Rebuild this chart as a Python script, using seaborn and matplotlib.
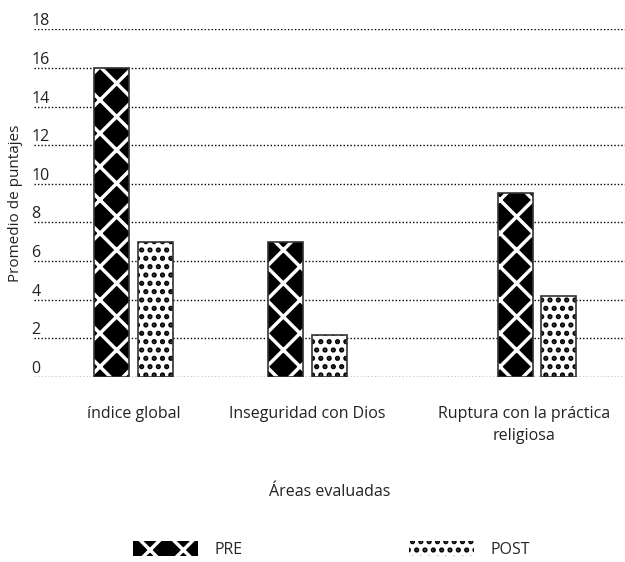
import matplotlib
matplotlib.use("Agg")
import matplotlib.pyplot as plt
from matplotlib.patches import Patch, Rectangle
import seaborn as sns
import pandas as pd

# Data
areas = ["índice global", "Inseguridad con Dios", "Ruptura con la práctica\nreligiosa"]
pre_scores = [16.0, 7.0, 9.5]
post_scores = [7.0, 2.2, 4.2]
phases = ["PRE", "POST"]
y_ticks = [0, 2, 4, 6, 8, 10, 12, 14, 16, 18]

# Horizontal placement of the groups along the axis
group_pos = [0.0, 1.0, 2.32]
label_pos = [0.0, 1.0, 2.245]

df = pd.DataFrame({
    "pos": group_pos * 2,
    "phase": [phases[0]] * 3 + [phases[1]] * 3,
    "score": pre_scores + post_scores,
})

sns.set_theme(style="white")
plt.rcParams["font.family"] = ["Open Sans", "DejaVu Sans"]
plt.rcParams["hatch.linewidth"] = 2.5

FS = 11.5
TXT = "#222222"

fig = plt.figure(figsize=(6.25, 5.62), dpi=100)
ax = fig.add_axes([0.0544, 0.329, 0.9456, 0.619])

sns.barplot(data=df, x="pos", y="score", hue="phase", hue_order=phases,
            native_scale=True, width=0.5, gap=0.2, dodge=True,
            legend=False, ax=ax, errorbar=None)

pre_style = dict(facecolor="black", edgecolor="white", hatch="x")
post_style = dict(facecolor="white", edgecolor="black", hatch="..")

bars = list(ax.patches)
for i, bar in enumerate(bars):
    style = pre_style if i < 3 else post_style
    bar.set_facecolor(style["facecolor"])
    bar.set_edgecolor(style["edgecolor"])
    bar.set_hatch(style["hatch"])
    bar.set_linewidth(0)
    outline = Rectangle(bar.get_xy(), bar.get_width(), bar.get_height(),
                        fill=False, edgecolor="#333333", linewidth=1.2, zorder=3)
    ax.add_patch(outline)

ax.set_xlim(-0.572, 2.825)
ax.set_ylim(0, 18)
ax.set_yticks(y_ticks)
ax.set_yticklabels([str(v) for v in y_ticks], ha="left", va="bottom")
ax.tick_params(axis="y", length=0, pad=2, labelsize=FS, colors=TXT)
ax.set_xticks(label_pos)
ax.set_xticklabels(areas, fontsize=FS, color=TXT, linespacing=1.45)
ax.tick_params(axis="x", length=0, pad=21)

ax.yaxis.grid(True, linestyle=(0, (1, 1.5)), color="black", linewidth=1.0)
ax.set_axisbelow(True)
for s in ax.spines.values():
    s.set_visible(False)

ax.set_ylabel("Promedio de puntajes", fontsize=11, color=TXT, labelpad=6)
ax.set_xlabel("Áreas evaluadas", fontsize=FS, color=TXT, labelpad=29)

handles = [
    Patch(facecolor="black", edgecolor="white", hatch="x", linewidth=0, label=phases[0]),
    Patch(facecolor="white", edgecolor="black", hatch="..", linewidth=0, label=phases[1]),
]
fig.legend(handles=handles, loc="center", bbox_to_anchor=(0.53, 0.022), ncol=2,
           frameon=False, handlelength=4.1, handleheight=1.06, columnspacing=10.4,
           handletextpad=1.0, fontsize=FS)

fig.savefig("out.png", dpi=100)
